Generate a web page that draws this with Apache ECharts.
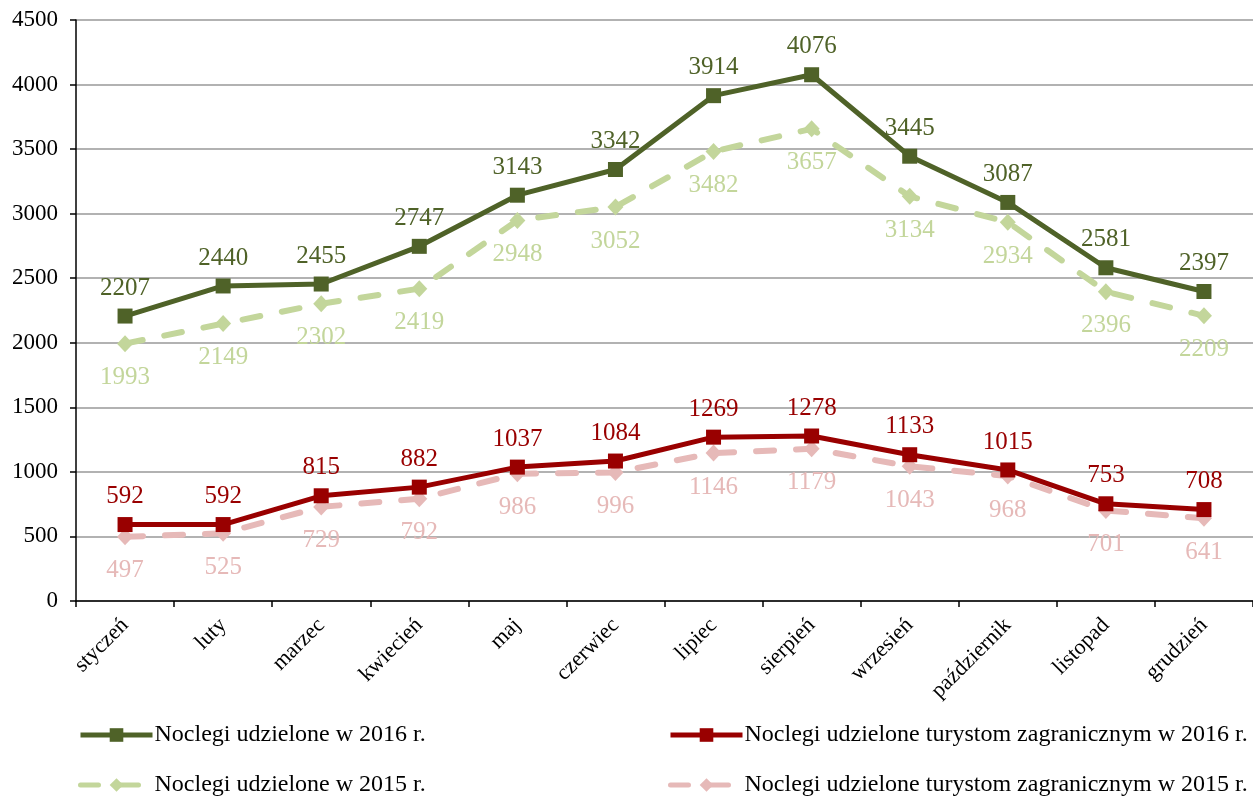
<!DOCTYPE html>
<html>
<head>
<meta charset="utf-8">
<script src="https://cdn.jsdelivr.net/npm/echarts@6/dist/echarts.min.js"></script>
<style>
html, body { margin: 0; padding: 0; background: #fff; }
#chart { width: 1253px; height: 798px; }
</style>
</head>
<body>
<div id="chart"></div>
<script>
const months = ['styczeń', 'luty', 'marzec', 'kwiecień', 'maj', 'czerwiec', 'lipiec', 'sierpień', 'wrzesień', 'październik', 'listopad', 'grudzień'];
const total2016 = [2207, 2440, 2455, 2747, 3143, 3342, 3914, 4076, 3445, 3087, 2581, 2397];
const total2015 = [1993, 2149, 2302, 2419, 2948, 3052, 3482, 3657, 3134, 2934, 2396, 2209];
const foreign2016 = [592, 592, 815, 882, 1037, 1084, 1269, 1278, 1133, 1015, 753, 708];
const foreign2015 = [497, 525, 729, 792, 986, 996, 1146, 1179, 1043, 968, 701, 641];

const FONT = '"Liberation Serif", "Times New Roman", serif';

const chart = echarts.init(document.getElementById('chart'));

// helper for one line series
const lineSeries = (name, data, color, dashed, labelPos, labelDist) => ({
    name: name,
    type: 'line',
    data: data,
    symbol: dashed ? 'diamond' : 'rect',
    symbolSize: dashed ? [16, 17] : 15,
    showAllSymbol: true,
    z: dashed ? 2 : 3,
    lineStyle: {
        color: color,
        width: dashed ? 6 : 5,
        type: dashed ? [18, 22] : 'solid',
        cap: dashed ? 'round' : 'butt'
    },
    itemStyle: { color: color },
    label: {
        show: true,
        position: labelPos,
        distance: labelDist,
        color: color,
        fontFamily: FONT,
        fontSize: 25
    },
    emphasis: { disabled: true }
});

// one legend per item so the layout is fixed
const legendItem = (name, left, top) => ({
    left: left, top: top, padding: 0,
    itemWidth: 72, itemHeight: 17,
    lineStyle: { width: 5 },
    textStyle: { fontFamily: FONT, fontSize: 24, color: '#000', padding: [0, 0, 0, -3] },
    data: [name]
});

const option = {
    animation: false,
    grid: { left: 76, right: 0, top: 20, bottom: 197, containLabel: false },
    xAxis: {
        type: 'category',
        data: months,
        boundaryGap: true,
        axisLine: { lineStyle: { color: '#000', width: 1.5 } },
        axisTick: { show: true, length: 6, lineStyle: { color: '#000', width: 1.5 } },
        axisLabel: {
            rotate: 45,
            fontFamily: FONT,
            fontSize: 22,
            color: '#000',
            margin: 21,
            interval: 0
        }
    },
    yAxis: {
        type: 'value',
        min: 0,
        max: 4500,
        interval: 500,
        axisLine: { show: true, lineStyle: { color: '#000', width: 1.5 } },
        axisTick: { show: true, length: 6, lineStyle: { color: '#000', width: 1.5 } },
        axisLabel: {
            fontFamily: FONT, fontSize: 23, color: '#000', margin: 18,
            formatter: v => String(v)
        },
        splitLine: { show: true, lineStyle: { color: '#999', width: 1.5 } }
    },
    legend: [
        legendItem('Noclegi udzielone w 2016 r.', 78, 723),
        legendItem('Noclegi udzielone w 2015 r.', 78, 773),
        legendItem('Noclegi udzielone turystom zagranicznym w 2016 r.', 668, 723),
        legendItem('Noclegi udzielone turystom zagranicznym w 2015 r.', 668, 773)
    ],
    series: [
        lineSeries('Noclegi udzielone w 2015 r.', total2015, '#C3D69B', true, 'bottom', 13),
        lineSeries('Noclegi udzielone turystom zagranicznym w 2015 r.', foreign2015, '#E6B9B8', true, 'bottom', 13),
        lineSeries('Noclegi udzielone w 2016 r.', total2016, '#4F6228', false, 'top', 8),
        lineSeries('Noclegi udzielone turystom zagranicznym w 2016 r.', foreign2016, '#990000', false, 'top', 8)
    ]
};

chart.setOption(option);
</script>
</body>
</html>
